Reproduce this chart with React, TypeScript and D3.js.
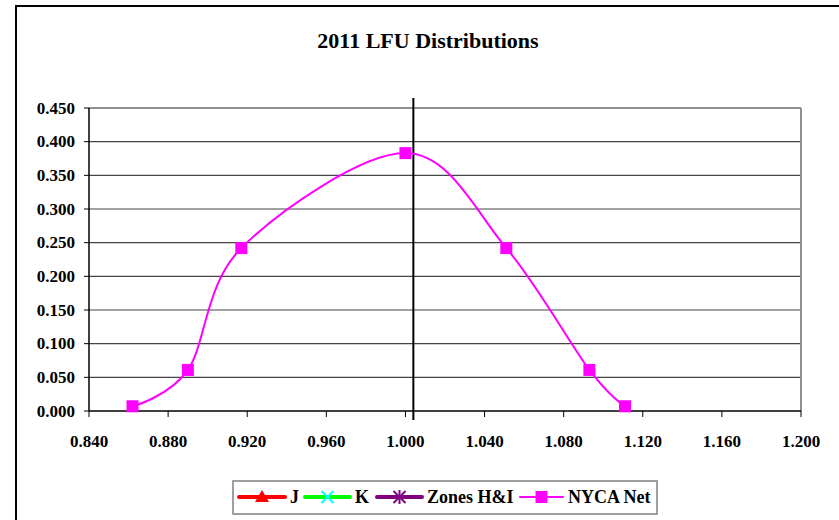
import React from "react";
import * as d3 from "d3";

// NYCA Net distribution points
const lfuValues = [0.862, 0.89, 0.917, 1.0, 1.051, 1.093, 1.111];
const probValues = [0.007, 0.061, 0.242, 0.383, 0.242, 0.061, 0.007];

const xTicks = [0.84, 0.88, 0.92, 0.96, 1.0, 1.04, 1.08, 1.12, 1.16, 1.2];
const yTicks = [0, 0.05, 0.1, 0.15, 0.2, 0.25, 0.3, 0.35, 0.4, 0.45];

const legendNames = ["J", "K", "Zones H&I", "NYCA Net"];
const legendLineColors = ["#FF0000", "#00FF00", "#800080", "#FF00FF"];
const legendMarkerColors = ["#FF0000", "#00FFFF", "#800080", "#FF00FF"];

const referenceLine = 1.004;

const W = 839;
const H = 520;
const margin = { left: 89, right: 38, top: 108, bottom: 109 };
const FONT = "'Liberation Serif', 'DejaVu Serif', serif";

const App: React.FC = () => {
  const x = d3.scaleLinear().domain([0.84, 1.2]).range([margin.left, W - margin.right]);
  const y = d3.scaleLinear().domain([0, 0.45]).range([H - margin.bottom, margin.top]);

  const pts = lfuValues.map((v, i) => [v, probValues[i]] as [number, number]);
  // Excel-style smoothing ~ uniform Catmull-Rom
  const line = d3
    .line<[number, number]>()
    .x((d) => x(d[0]))
    .y((d) => y(d[1]))
    .curve(d3.curveCatmullRom.alpha(0));

  const x0 = x(0.84);
  const x1 = x(1.2);
  const y0 = y(0);
  const y1 = y(0.45);

  // legend layout
  const legendX = [239, 305, 377, 520];
  const legendLen = [46, 45, 45, 43];
  const legendWidths = [4, 4, 4, 2];
  const ly = 497;

  const marker = (i: number, cx: number, cy: number) => {
    const c = legendMarkerColors[i];
    if (i === 0) {
      return <path d={`M${cx},${cy - 7} L${cx + 7},${cy + 5} L${cx - 7},${cy + 5} Z`} fill={c} />;
    }
    if (i === 1) {
      return (
        <g stroke={c} strokeWidth={2}>
          <line x1={cx - 6} y1={cy - 6} x2={cx + 6} y2={cy + 6} />
          <line x1={cx - 6} y1={cy + 6} x2={cx + 6} y2={cy - 6} />
        </g>
      );
    }
    if (i === 2) {
      return (
        <g stroke={c} strokeWidth={2}>
          <line x1={cx - 6} y1={cy - 6} x2={cx + 6} y2={cy + 6} />
          <line x1={cx - 6} y1={cy + 6} x2={cx + 6} y2={cy - 6} />
          <line x1={cx} y1={cy - 7} x2={cx} y2={cy + 7} />
        </g>
      );
    }
    return <rect x={cx - 6} y={cy - 6} width={12} height={12} fill={c} />;
  };

  const txt = { fontFamily: FONT, fontWeight: 700 } as React.CSSProperties;

  return (
    <svg width={W} height={H} style={{ position: "absolute", left: 0, top: 0, background: "#fff" }}>
      {/* outer chart border */}
      <path d={`M16,${H} L16,6 L${W},6`} fill="none" stroke="#000" strokeWidth={2} />

      <text x={428} y={48} textAnchor="middle" fontSize={22} style={txt}>
        2011 LFU Distributions
      </text>

      {/* gridlines */}
      {yTicks.slice(1).map((t) => (
        <line key={t} x1={x0} x2={x1} y1={y(t)} y2={y(t)} stroke="#444" strokeWidth={1.2} />
      ))}

      {/* plot border top/right */}
      <line x1={x0} x2={x1} y1={y1} y2={y1} stroke="#909090" strokeWidth={2} />
      <line x1={x1} x2={x1} y1={y1} y2={y0} stroke="#909090" strokeWidth={2} />

      {/* axes */}
      <line x1={x0} x2={x0} y1={y1} y2={y0} stroke="#000" strokeWidth={1.5} />
      <line x1={x0} x2={x1} y1={y0} y2={y0} stroke="#000" strokeWidth={1.5} />
      {yTicks.map((t) => (
        <g key={t}>
          <line x1={x0 - 5} x2={x0} y1={y(t)} y2={y(t)} stroke="#000" />
          <text x={75} y={y(t) + 5.5} textAnchor="end" fontSize={17} style={txt}>
            {t.toFixed(3)}
          </text>
        </g>
      ))}
      {xTicks.map((t) => (
        <g key={t}>
          <line x1={x(t)} x2={x(t)} y1={y0} y2={y0 + 6} stroke="#000" />
          <text x={x(t)} y={y0 + 36} textAnchor="middle" fontSize={17} style={txt}>
            {t.toFixed(3)}
          </text>
        </g>
      ))}

      {/* vertical reference line */}
      <line
        x1={x(referenceLine)}
        x2={x(referenceLine)}
        y1={y1 - 10}
        y2={y0 + 9}
        stroke="#000"
        strokeWidth={2}
      />

      {/* NYCA Net series */}
      <path d={line(pts) ?? ""} fill="none" stroke="#FF00FF" strokeWidth={2} />
      {pts.map((d, i) => (
        <rect key={i} x={x(d[0]) - 6} y={y(d[1]) - 6} width={12} height={12} fill="#FF00FF" />
      ))}

      {/* legend */}
      <rect x={233} y={481} width={424} height={33} fill="#fff" stroke="#808080" strokeWidth={1.5} />
      {legendNames.map((name, i) => {
        const lx = legendX[i];
        const len = legendLen[i];
        return (
          <g key={name}>
            <line
              x1={lx}
              x2={lx + len}
              y1={ly}
              y2={ly}
              stroke={legendLineColors[i]}
              strokeWidth={legendWidths[i]}
              strokeLinecap="round"
            />
            {marker(i, lx + len / 2, ly)}
            <text x={lx + len + 5} y={ly + 6} fontSize={18} style={txt}>
              {name}
            </text>
          </g>
        );
      })}
    </svg>
  );
};

export default App;
